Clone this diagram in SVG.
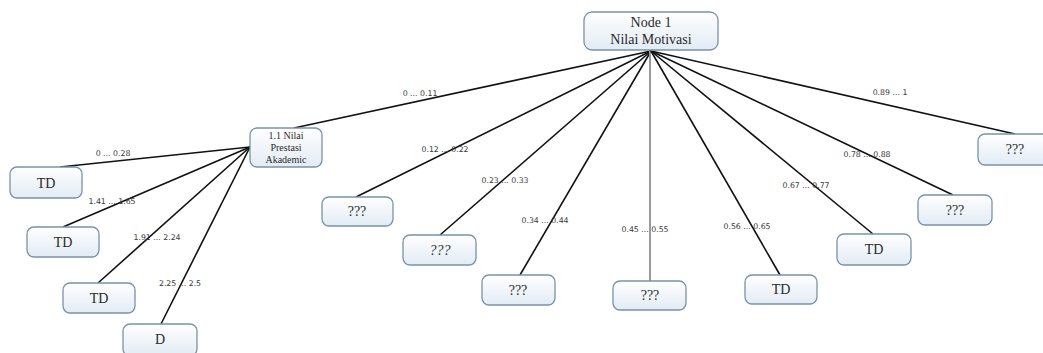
<svg xmlns="http://www.w3.org/2000/svg" width="1043" height="353" viewBox="0 0 1043 353">
  <defs>
    <linearGradient id="nodeFill" x1="0" y1="0" x2="0" y2="1">
      <stop offset="0" stop-color="#ffffff"/>
      <stop offset="1" stop-color="#e2ebf4"/>
    </linearGradient>
    <style>
      .box { fill: url(#nodeFill); stroke: #7a92ab; stroke-width: 1.3; }
      .lbl { font-family: "Liberation Serif", "Times New Roman", serif; font-size: 14px; fill: #2a2a2a; text-anchor: middle; }
      .small { font-family: "Liberation Serif", "Times New Roman", serif; font-size: 10px; fill: #2a2a2a; text-anchor: middle; }
      .edge { stroke: #111; stroke-width: 1.6; fill: none; }
      .edge-gray { stroke: #9a9a9a; stroke-width: 2; fill: none; }
      .elbl { font-family: "DejaVu Sans", "Liberation Sans", sans-serif; font-size: 7.8px; fill: #3a3a3a; text-anchor: middle; }
    </style>
  </defs>

  <!-- connectors -->
  <g id="connectors">
    <line class="edge" x1="651" y1="51" x2="294" y2="128"/>
    <line class="edge" x1="651" y1="51" x2="356" y2="197"/>
    <line class="edge" x1="651" y1="51" x2="440" y2="235"/>
    <line class="edge" x1="651" y1="51" x2="520" y2="275"/>
    <line class="edge-gray" x1="650" y1="51" x2="650" y2="281"/>
    <line class="edge" x1="651" y1="51" x2="780" y2="275"/>
    <line class="edge" x1="651" y1="51" x2="873" y2="234"/>
    <line class="edge" x1="651" y1="51" x2="953" y2="195"/>
    <line class="edge" x1="651" y1="51" x2="1015" y2="134"/>

    <line class="edge" x1="250" y1="147" x2="60" y2="167"/>
    <line class="edge" x1="250" y1="147" x2="63" y2="227"/>
    <line class="edge" x1="250" y1="147" x2="98" y2="283"/>
    <line class="edge" x1="250" y1="147" x2="161" y2="324"/>

    <text class="elbl" x="420" y="96">0 ... 0.11</text>
    <text class="elbl" x="445" y="152">0.12 ... 0.22</text>
    <text class="elbl" x="505" y="183">0.23 ... 0.33</text>
    <text class="elbl" x="545" y="223">0.34 ... 0.44</text>
    <text class="elbl" x="645" y="232">0.45 ... 0.55</text>
    <text class="elbl" x="747" y="229">0.56 ... 0.65</text>
    <text class="elbl" x="806" y="188">0.67 ... 0.77</text>
    <text class="elbl" x="867" y="157">0.78 ... 0.88</text>
    <text class="elbl" x="890" y="95">0.89 ... 1</text>

    <text class="elbl" x="113" y="156">0 ... 0.28</text>
    <text class="elbl" x="112" y="204">1.41 ... 1.65</text>
    <text class="elbl" x="157" y="240">1.91 ... 2.24</text>
    <text class="elbl" x="180" y="286">2.25 ... 2.5</text>
  </g>

  <!-- root -->
  <g id="node-root">
    <rect class="box" x="584" y="12" width="134" height="38" rx="8"/>
    <text class="lbl" x="651" y="27">Node 1</text>
    <text class="lbl" x="651" y="44">Nilai Motivasi</text>
  </g>

  <g id="node-1-1">
    <rect class="box" x="250" y="128" width="72" height="39" rx="7"/>
    <text class="small" x="286" y="139">1.1 Nilai</text>
    <text class="small" x="286" y="151" font-size="8">Prestasi</text>
    <text class="small" x="286" y="163">Akademic</text>
  </g>

  <g id="node-td-1">
    <rect class="box" x="10" y="167" width="72" height="31" rx="7"/>
    <text class="lbl" x="46" y="188">TD</text>
  </g>
  <g id="node-td-2">
    <rect class="box" x="27" y="227" width="72" height="30" rx="7"/>
    <text class="lbl" x="63" y="247">TD</text>
  </g>
  <g id="node-td-3">
    <rect class="box" x="63" y="283" width="72" height="30" rx="7"/>
    <text class="lbl" x="99" y="303">TD</text>
  </g>
  <g id="node-d">
    <rect class="box" x="123" y="324" width="74" height="32" rx="7"/>
    <text class="lbl" x="160" y="344">D</text>
  </g>

  <g id="node-q-1">
    <rect class="box" x="322" y="197" width="71" height="29" rx="7"/>
    <text class="lbl" x="357" y="216">???</text>
  </g>
  <g id="node-q-2">
    <rect class="box" x="403" y="235" width="73" height="30" rx="7"/>
    <text class="lbl" x="440" y="255" font-style="italic">???</text>
  </g>
  <g id="node-q-3">
    <rect class="box" x="482" y="275" width="73" height="30" rx="7"/>
    <text class="lbl" x="518" y="295">???</text>
  </g>
  <g id="node-q-4">
    <rect class="box" x="613" y="281" width="73" height="29" rx="7"/>
    <text class="lbl" x="650" y="300">???</text>
  </g>
  <g id="node-td-5">
    <rect class="box" x="745" y="275" width="72" height="29" rx="7"/>
    <text class="lbl" x="781" y="294">TD</text>
  </g>
  <g id="node-td-6">
    <rect class="box" x="837" y="234" width="74" height="31" rx="7"/>
    <text class="lbl" x="874" y="254">TD</text>
  </g>
  <g id="node-q-7">
    <rect class="box" x="918" y="195" width="74" height="30" rx="7"/>
    <text class="lbl" x="955" y="215">???</text>
  </g>
  <g id="node-q-8">
    <rect class="box" x="978" y="134" width="74" height="31" rx="7"/>
    <text class="lbl" x="1015" y="154">???</text>
  </g>
</svg>
